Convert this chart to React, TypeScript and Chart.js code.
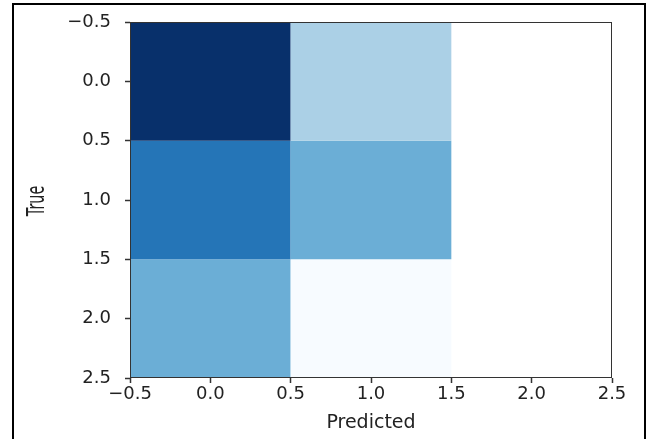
import React, { useEffect, useRef } from "react";
import { Chart, registerables } from "chart.js";

Chart.register(...registerables);

// Confusion matrix values (rows = True, columns = Predicted)
const trueRows = [0, 1, 2];
const predictedCols = [0, 1];
const row0Values = [30, 10];
const row1Values = [22, 15];
const row2Values = [15, 0];
const matrixRows = [row0Values, row1Values, row2Values];

const tickValues = [-0.5, 0, 0.5, 1, 1.5, 2, 2.5];

// matplotlib "Blues" colormap stops
const BLUES = [
  [247, 251, 255],
  [222, 235, 247],
  [198, 219, 239],
  [158, 202, 225],
  [107, 174, 214],
  [66, 146, 198],
  [33, 113, 181],
  [8, 81, 156],
  [8, 48, 107],
];

function blues(t: number): string {
  const tt = Math.max(0, Math.min(1, t)) * (BLUES.length - 1);
  const i = Math.min(Math.floor(tt), BLUES.length - 2);
  const f = tt - i;
  const a = BLUES[i];
  const b = BLUES[i + 1];
  const c = a.map((v, k) => Math.round(v + (b[k] - v) * f));
  return `rgb(${c[0]},${c[1]},${c[2]})`;
}

const fmt = (v: number) => (v < 0 ? "\u2212" : "") + Math.abs(v).toFixed(1);

const FONT = "'DejaVu Sans', sans-serif";

const framePlugin = {
  id: "framePlugin",
  afterDatasetsDraw(chart: any) {
    const { ctx, chartArea } = chart;
    ctx.save();
    ctx.strokeStyle = "#333";
    ctx.lineWidth = 1;
    ctx.strokeRect(
      Math.round(chartArea.left) + 0.5,
      Math.round(chartArea.top) + 0.5,
      Math.round(chartArea.right - chartArea.left) - 1,
      Math.round(chartArea.bottom - chartArea.top) - 1
    );
    ctx.restore();
  },
  afterDraw(chart: any) {
    const { ctx, chartArea } = chart;
    const cy = (chartArea.top + chartArea.bottom) / 2 + 1;
    ctx.save();
    ctx.translate(44, cy);
    ctx.rotate(-Math.PI / 2);
    ctx.scale(0.6, 1);
    ctx.font = `24px ${FONT}`;
    ctx.fillStyle = "#222";
    ctx.textAlign = "center";
    ctx.textBaseline = "alphabetic";
    ctx.fillText("True", 0, 0);
    ctx.restore();
  },
};

export default function App() {
  const canvasRef = useRef<HTMLCanvasElement | null>(null);

  useEffect(() => {
    const canvas = canvasRef.current;
    if (!canvas) return;
    const maxVal = Math.max(...matrixRows.flat());
    // The bar ruler measures the 0.5-unit tick spacing, so a full cell (1 unit) is 2x that.
    const datasets = matrixRows.map((row, i) => ({
      label: `True ${trueRows[i]}`,
      data: row.map((_, j) => ({ x: predictedCols[j], y: [trueRows[i] - 0.5, trueRows[i] + 0.5] })),
      backgroundColor: row.map((v) => blues(v / maxVal)),
      borderWidth: 0,
      borderSkipped: false,
      barPercentage: 1,
      categoryPercentage: 2,
      grouped: false,
    }));

    const tickFont = { family: FONT, size: 18 };

    const chart = new Chart(canvas, {
      type: "bar",
      data: { datasets: datasets as any },
      plugins: [framePlugin],
      options: {
        animation: false,
        responsive: false,
        maintainAspectRatio: false,
        layout: { padding: { left: 0, top: 22, right: 37, bottom: 0 } },
        plugins: {
          legend: { display: false },
          tooltip: { enabled: false },
          title: { display: false },
        },
        scales: {
          x: {
            type: "linear",
            min: -0.5,
            max: 2.5,
            offset: false,
            afterFit: (s: any) => {
              s.height = 61;
              s.paddingLeft = 0;
              s.paddingRight = 0;
            },
            afterBuildTicks: (s: any) => {
              s.ticks = tickValues.map((v) => ({ value: v }));
            },
            ticks: {
              stepSize: 0.5,
              autoSkip: false,
              maxRotation: 0,
              font: tickFont,
              color: "#222",
              padding: 1,
              callback: (v: any) => fmt(Number(v)),
            },
            grid: {
              offset: false,
              drawOnChartArea: false,
              drawTicks: true,
              tickLength: 5,
              tickWidth: 1.5,
              tickColor: "#333",
            },
            border: { display: false },
            title: {
              display: true,
              text: "Predicted",
              font: { family: FONT, size: 19 },
              color: "#222",
              padding: { top: 0, bottom: 5 },
            },
          },
          y: {
            type: "linear",
            reverse: true,
            min: -0.5,
            max: 2.5,
            afterFit: (s: any) => {
              s.width = 130;
              s.paddingTop = 0;
              s.paddingBottom = 0;
            },
            afterBuildTicks: (s: any) => {
              s.ticks = tickValues.map((v) => ({ value: v }));
            },
            ticks: {
              stepSize: 0.5,
              autoSkip: false,
              font: tickFont,
              color: "#222",
              padding: 14,
              callback: (v: any) => fmt(Number(v)),
            },
            grid: {
              drawOnChartArea: false,
              drawTicks: true,
              tickLength: 5,
              tickWidth: 1.5,
              tickColor: "#333",
            },
            border: { display: false },
            title: { display: false },
          },
        },
      } as any,
    });
    return () => chart.destroy();
  }, []);

  return (
    <div
      style={{
        position: "absolute",
        left: 0,
        top: 0,
        width: 649,
        height: 439,
        overflow: "hidden",
        background: "#fff",
      }}
    >
      <div
        style={{
          position: "absolute",
          left: 12,
          top: 3,
          width: 634,
          height: 500,
          border: "2px solid #000",
          boxSizing: "border-box",
        }}
      />
      <canvas
        ref={canvasRef}
        width={649}
        height={439}
        style={{ position: "absolute", left: 0, top: 0, width: 649, height: 439 }}
      />
    </div>
  );
}
